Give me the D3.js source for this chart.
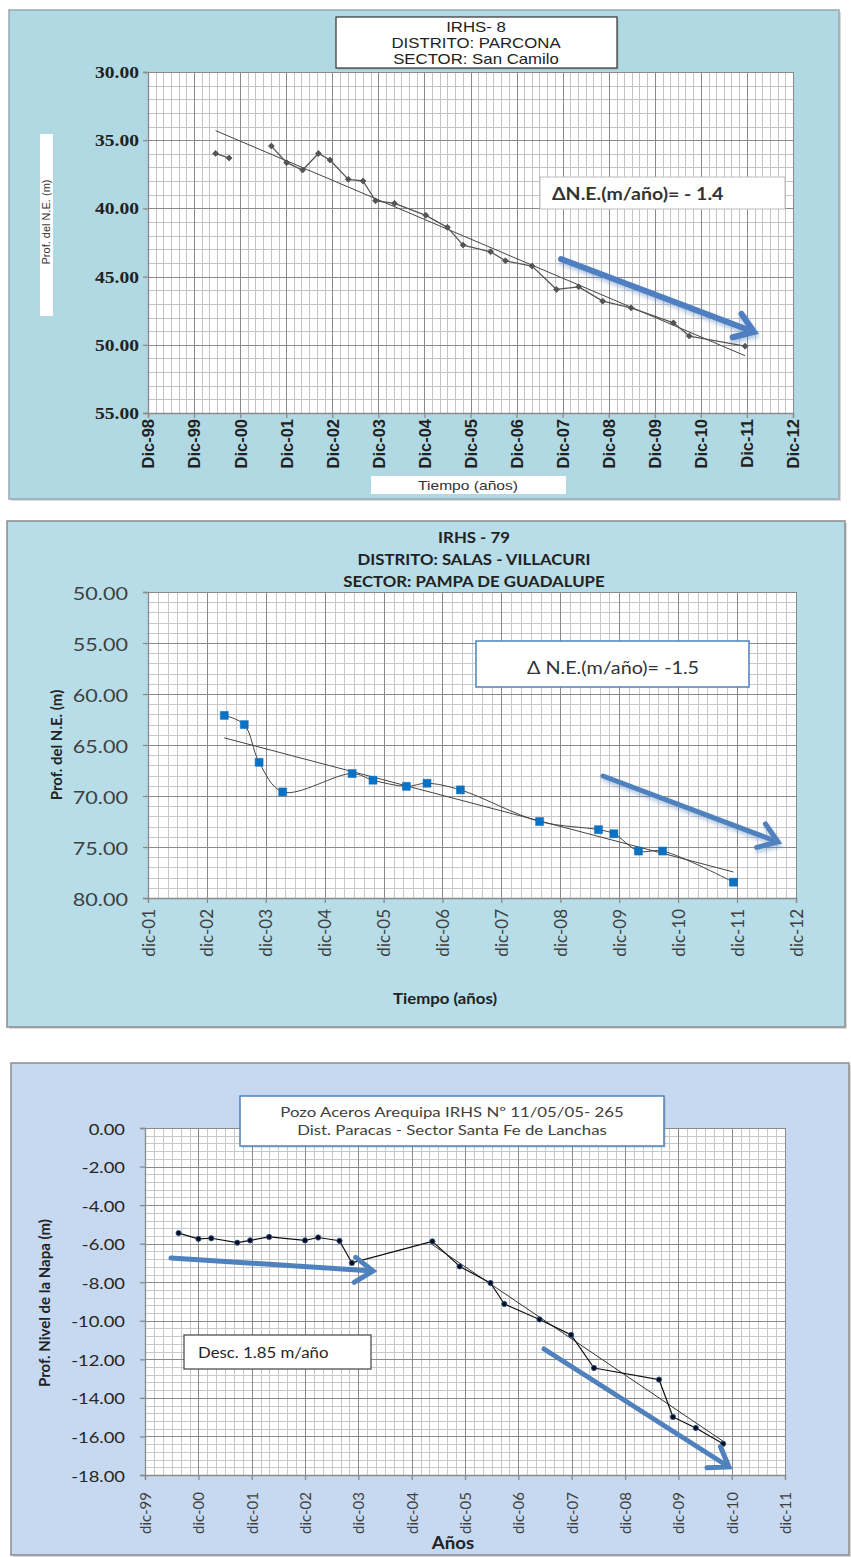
<!DOCTYPE html>
<html>
<head>
<meta charset="utf-8">
<script src="https://cdn.jsdelivr.net/npm/d3@7"></script>
<style>
  body { margin: 0; background: #fff; }
  svg { display: block; }
</style>
</head>
<body>
<svg id="chart" width="851" height="1557"></svg>
<script>
// ---------- IRHS-8 · Distrito Parcona · Sector San Camilo ----------
const irhs8Dates = ["2000-05-20","2000-09-04","2001-02-01","2001-08-05","2001-12-04","2002-04-10","2002-08-13",
  "2002-11-13","2003-04-07","2003-08-02","2003-11-09","2004-04-07","2004-12-12","2005-06-01","2005-10-03",
  "2006-05-09","2006-09-04","2007-04-03","2007-10-14","2008-04-07","2008-10-14","2009-05-27","2010-04-28",
  "2010-09-01","2011-11-17"];
const irhs8Depth = [35.97, 36.31, null, 35.43, 36.65, 37.19, 35.97, 36.45, 37.87, 37.99, 39.44, 39.63, 40.51,
  41.39, 42.69, 43.18, 43.84, 44.23, 45.94, 45.75, 46.80, 47.29, 48.39, 49.36, 50.10];
const irhs8TrendDates = ["2000-05-20", "2011-11-17"];
const irhs8TrendDepth = [34.3, 50.8];
const irhs8YTicks = [30, 35, 40, 45, 50, 55];
const irhs8XLabels = ["Dic-98","Dic-99","Dic-00","Dic-01","Dic-02","Dic-03","Dic-04","Dic-05","Dic-06",
  "Dic-07","Dic-08","Dic-09","Dic-10","Dic-11","Dic-12"];

// ---------- IRHS-79 · Distrito Salas - Villacuri · Pampa de Guadalupe ----------
const irhs79Dates = ["2003-03-19","2003-07-21","2003-10-21","2004-03-15","2005-05-20","2005-09-26","2006-04-21",
  "2006-08-27","2007-03-22","2008-07-25","2009-07-25","2009-10-29","2010-03-30","2010-08-27","2011-11-09"];
const irhs79Depth = [62.1, 63.0, 66.7, 69.6, 67.8, 68.45, 69.05, 68.75, 69.4, 72.5, 73.3, 73.7, 75.4, 75.4, 78.45];
const irhs79TrendDates = ["2003-03-19", "2011-11-09"];
const irhs79TrendDepth = [64.3, 77.45];
const irhs79YTicks = [50, 55, 60, 65, 70, 75, 80];
const irhs79XLabels = ["dic-01","dic-02","dic-03","dic-04","dic-05","dic-06","dic-07","dic-08","dic-09",
  "dic-10","dic-11","dic-12"];

// ---------- Pozo Aceros Arequipa · IRHS 11/05/05-265 · Santa Fe de Lanchas ----------
const acerosDates = ["2000-07-18","2000-12-01","2001-02-27","2001-08-24","2001-11-20","2002-03-30","2002-12-01",
  "2003-03-01","2003-07-25","2003-10-18","2005-04-21","2005-10-25","2006-05-24","2006-08-27","2007-04-25",
  "2007-11-27","2008-05-02","2009-07-21","2009-10-25","2010-03-30","2010-10-03"];
const acerosLevel = [-5.45, -5.75, -5.72, -5.95, -5.83, -5.65, -5.83, -5.68, -5.85, -7.0, -5.88, -7.18, -8.04,
  -9.13, -9.93, -10.73, -12.45, -13.05, -14.99, -15.56, -16.38];
const acerosTrendDates = ["2005-04-21", "2010-10-03"];
const acerosTrendLevel = [-6.05, -16.25];
const acerosYTicks = [0, -2, -4, -6, -8, -10, -12, -14, -16, -18];
const acerosXLabels = ["dic-99","dic-00","dic-01","dic-02","dic-03","dic-04","dic-05","dic-06","dic-07",
  "dic-08","dic-09","dic-10","dic-11"];

// ---------- helpers ----------
const parseDay = d3.timeParse("%Y-%m-%d");
const monthIndex = { ene:0, feb:1, mar:2, abr:3, may:4, jun:5, jul:6, ago:7, sep:8, set:8, oct:9, nov:10, dic:11 };
function labelToDate(lbl) {
  const [m, yy] = lbl.split("-");
  const n = +yy;
  return new Date(n < 50 ? 2000 + n : 1900 + n, monthIndex[m.toLowerCase()], 1);
}
function zip(dates, values) {
  return dates.map((d, i) => ({ date: parseDay(d), v: values[i] }));
}

const svg = d3.select("#chart");
const defs = svg.append("defs");
const shadow = defs.append("filter").attr("id", "arrowShadow")
  .attr("x", "-20%").attr("y", "-40%").attr("width", "140%").attr("height", "180%");
shadow.append("feGaussianBlur").attr("in", "SourceGraphic").attr("stdDeviation", 2.2).attr("result", "b");
shadow.append("feOffset").attr("in", "b").attr("dx", 1).attr("dy", 3).attr("result", "o");
shadow.append("feComponentTransfer").attr("in", "o").attr("result", "s")
  .append("feFuncA").attr("type", "linear").attr("slope", 0.45);
const merge = shadow.append("feMerge");
merge.append("feMergeNode").attr("in", "s");
merge.append("feMergeNode").attr("in", "SourceGraphic");

// horizontal text placed with an optional horizontal stretch
function addText(g, x, y, txt, o) {
  return g.append("text")
    .attr("transform", `translate(${x},${y}) scale(${o.sx || 1},1)`)
    .attr("text-anchor", o.anchor || "middle")
    .attr("dominant-baseline", "central")
    .style("font-family", o.font)
    .style("font-size", o.size + "px")
    .style("font-weight", o.weight || "normal")
    .attr("fill", o.color || "#222")
    .text(txt);
}

function drawArrow(g, a, color, width, soft) {
  const ang = Math.atan2(a.y2 - a.y1, a.x2 - a.x1);
  const L = a.head, spread = Math.PI / 5.2;
  const p1 = [a.x2 - L * Math.cos(ang - spread), a.y2 - L * Math.sin(ang - spread)];
  const p2 = [a.x2 - L * Math.cos(ang + spread), a.y2 - L * Math.sin(ang + spread)];
  const ga = g.append("g");
  if (soft) ga.attr("filter", "url(#arrowShadow)");
  ga.append("path")
    .attr("d", `M${a.x1},${a.y1}L${a.x2},${a.y2}M${p1[0]},${p1[1]}L${a.x2},${a.y2}L${p2[0]},${p2[1]}`)
    .attr("fill", "none").attr("stroke", color).attr("stroke-width", width)
    .attr("stroke-linecap", "round").attr("stroke-linejoin", "miter");
}

function drawPanel(p) {
  const g = svg.append("g");
  const [bx0, by0, bx1, by1] = p.box;
  g.append("rect").attr("x", bx0 + 2).attr("y", by0 + 2).attr("width", bx1 - bx0).attr("height", by1 - by0)
    .attr("fill", "#d9d9d9");
  g.append("rect").attr("x", bx0).attr("y", by0).attr("width", bx1 - bx0).attr("height", by1 - by0)
    .attr("fill", p.bg).attr("stroke", p.boxStroke).attr("stroke-width", 1.5);

  const xTicks = p.xLabels.map(labelToDate);
  const [px0, py0, px1, py1] = p.plot;
  const x = d3.scaleTime().domain([xTicks[0], xTicks[xTicks.length - 1]]).range([px0, px1]);
  const y = d3.scaleLinear().domain([p.yTicks[0], p.yTicks[p.yTicks.length - 1]]).range([py0, py1]);

  g.append("rect").attr("x", px0).attr("y", py0).attr("width", px1 - px0).attr("height", py1 - py0)
    .attr("fill", "#fff");

  // minor grid: every two months and every minor depth step
  const monthsMinor = d3.range(0, (xTicks.length - 1) * 12 + 1, 2).map(i => d3.timeMonth.offset(xTicks[0], i));
  const d0 = p.yTicks[0], d1 = p.yTicks[p.yTicks.length - 1];
  const nMinor = Math.round(Math.abs(d1 - d0) / p.yMinor);
  const yMinor = d3.range(nMinor + 1).map(i => d0 + Math.sign(d1 - d0) * i * p.yMinor);
  const grid = g.append("g").attr("shape-rendering", "crispEdges");
  grid.selectAll(".vm").data(monthsMinor).join("line")
    .attr("x1", d => Math.round(x(d)) + 0.5).attr("x2", d => Math.round(x(d)) + 0.5)
    .attr("y1", py0).attr("y2", py1).attr("stroke", p.minorColor).attr("stroke-width", 1);
  grid.selectAll(".hm").data(yMinor).join("line")
    .attr("y1", d => Math.round(y(d)) + 0.5).attr("y2", d => Math.round(y(d)) + 0.5)
    .attr("x1", px0).attr("x2", px1).attr("stroke", p.minorColor).attr("stroke-width", 1);
  grid.selectAll(".vM").data(xTicks).join("line")
    .attr("x1", d => Math.round(x(d)) + 0.5).attr("x2", d => Math.round(x(d)) + 0.5)
    .attr("y1", py0).attr("y2", py1).attr("stroke", p.majorColor).attr("stroke-width", 1.3);
  grid.selectAll(".hM").data(p.yTicks).join("line")
    .attr("y1", d => Math.round(y(d)) + 0.5).attr("y2", d => Math.round(y(d)) + 0.5)
    .attr("x1", px0).attr("x2", px1).attr("stroke", p.majorColor).attr("stroke-width", 1.3);

  // axes
  const yAxis = g.append("g").attr("transform", `translate(${px0},0)`)
    .call(d3.axisLeft(y).tickValues(p.yTicks).tickSize(5).tickPadding(p.yPad)
      .tickFormat(d => (d === 0 ? 0 : d).toFixed(2)));
  const xAxis = g.append("g").attr("transform", `translate(0,${py1})`)
    .call(d3.axisBottom(x).tickValues(xTicks).tickSize(5).tickFormat((d, i) => p.xLabels[i]));
  [yAxis, xAxis].forEach(ax => {
    ax.attr("font-size", null);
    ax.select(".domain").attr("stroke", p.axisColor).attr("stroke-width", 1.3);
    ax.selectAll(".tick line").attr("stroke", p.axisColor).attr("stroke-width", 1.3);
  });
  yAxis.selectAll(".tick text").each(function () {
    const t = d3.select(this);
    const tx = +t.attr("x");
    t.attr("x", 0).attr("dy", null).attr("dominant-baseline", "central")
      .attr("transform", `translate(${tx},0) scale(${p.yLabel.sx || 1},1)`);
  }).style("font-family", p.yLabel.font).style("font-size", p.yLabel.size + "px")
    .style("font-weight", p.yLabel.weight || "normal").attr("fill", p.yLabel.color);
  xAxis.selectAll(".tick text")
    .attr("transform", "rotate(-90)").attr("text-anchor", "end")
    .attr("x", -p.xLabel.pad).attr("y", 0).attr("dy", "0.36em")
    .style("font-family", p.xLabel.font).style("font-size", p.xLabel.size + "px")
    .style("font-weight", p.xLabel.weight || "normal").attr("fill", p.xLabel.color);

  // trend line
  g.append("path").datum(p.trend)
    .attr("d", d3.line().x(d => x(d.date)).y(d => y(d.v)))
    .attr("fill", "none").attr("stroke", p.trendColor).attr("stroke-width", p.trendWidth);

  // observed series
  g.append("path").datum(p.series)
    .attr("d", d3.line().defined(d => d.v != null).curve(p.curve).x(d => x(d.date)).y(d => y(d.v)))
    .attr("fill", "none").attr("stroke", p.lineColor).attr("stroke-width", p.lineWidth)
    .attr("stroke-linejoin", "round");
  const pts = p.series.filter(d => d.v != null);
  const m = p.marker;
  g.selectAll(".mk").data(pts).join("path")
    .attr("transform", d => `translate(${x(d.date)},${y(d.v)}) rotate(${m.rotate || 0})`)
    .attr("d", d3.symbol().type(m.type).size(m.size))
    .attr("fill", m.fill).attr("stroke", m.stroke).attr("stroke-width", m.strokeWidth);

  // arrows
  p.arrows.forEach(a => drawArrow(g, a, p.arrowColor, p.arrowWidth, p.arrowSoft));

  // title
  if (p.titleBox) {
    const b = p.titleBox;
    g.append("rect").attr("x", b[0] + 1.5).attr("y", b[1] + 1.5).attr("width", b[2] - b[0]).attr("height", b[3] - b[1])
      .attr("fill", "#999").attr("opacity", 0.5);
    g.append("rect").attr("x", b[0]).attr("y", b[1]).attr("width", b[2] - b[0]).attr("height", b[3] - b[1])
      .attr("fill", "#fff").attr("stroke", p.titleBoxStroke).attr("stroke-width", p.titleBoxWidth);
  }
  p.title.forEach(t => addText(g, t.x, t.y, t.text, p.titleFont));

  // slope annotation
  const n = p.note;
  g.append("rect").attr("x", n.box[0]).attr("y", n.box[1]).attr("width", n.box[2] - n.box[0])
    .attr("height", n.box[3] - n.box[1]).attr("fill", "#fff").attr("stroke", n.stroke).attr("stroke-width", n.strokeWidth);
  addText(g, n.tx, n.ty, n.text, n.font);

  // axis titles
  [p.yTitle, p.xTitle].forEach(t => {
    if (t.box) {
      g.append("rect").attr("x", t.box[0]).attr("y", t.box[1]).attr("width", t.box[2] - t.box[0])
        .attr("height", t.box[3] - t.box[1]).attr("fill", "#fff");
    }
    const el = g.append("text")
      .attr("text-anchor", "middle").attr("dominant-baseline", "central")
      .style("font-family", t.font.font).style("font-size", t.font.size + "px")
      .style("font-weight", t.font.weight || "normal").attr("fill", t.font.color)
      .text(t.text);
    if (t.rotate) el.attr("transform", `translate(${t.x},${t.y}) rotate(-90) scale(1,${t.font.sx || 1})`);
    else el.attr("transform", `translate(${t.x},${t.y}) scale(${t.font.sx || 1},1)`);
  });
}

drawPanel({
  box: [9, 10, 839, 499], bg: "#b1d9e3", boxStroke: "#97a9b0",
  plot: [148, 72, 793, 413],
  xLabels: irhs8XLabels, yTicks: irhs8YTicks, yMinor: 1,
  minorColor: "#c4c4c4", majorColor: "#8a8a8a", axisColor: "#8a8a8a",
  yPad: 4,
  yLabel: { font: "'Liberation Serif', serif", size: 17, weight: "bold", color: "#222", sx: 1.15 },
  xLabel: { font: "'Liberation Sans', Arial, sans-serif", size: 16.5, weight: "bold", color: "#222", pad: 6 },
  series: zip(irhs8Dates, irhs8Depth),
  trend: zip(irhs8TrendDates, irhs8TrendDepth),
  curve: d3.curveLinear, lineColor: "#555", lineWidth: 1.3,
  trendColor: "#444", trendWidth: 1,
  marker: { type: d3.symbolSquare, size: 18, rotate: 45, fill: "#555", stroke: "#444", strokeWidth: 0.6 },
  arrows: [{ x1: 561, y1: 259, x2: 754, y2: 332, head: 22 }],
  arrowColor: "#4f7fc0", arrowWidth: 6, arrowSoft: true,
  titleBox: [336, 17, 617, 68], titleBoxStroke: "#333", titleBoxWidth: 1.2,
  titleFont: { font: "'Liberation Sans Narrow', 'Liberation Sans', Arial, sans-serif", size: 14, color: "#222", sx: 1.2 },
  title: [
    { x: 476, y: 27, text: "IRHS-  8" },
    { x: 476, y: 43, text: "DISTRITO:   PARCONA" },
    { x: 476, y: 59, text: "SECTOR:  San Camilo" }
  ],
  note: { box: [540, 177, 785, 209], stroke: "#bbb", strokeWidth: 1, tx: 552, ty: 194,
    text: "ΔN.E.(m/año)= - 1.4",
    font: { font: "Lato, sans-serif", size: 17, weight: "bold", color: "#333", anchor: "start", sx: 1.15 } },
  yTitle: { text: "Prof. del N.E. (m)", x: 46, y: 222, rotate: true, box: [40, 134, 53, 316],
    font: { font: "'Liberation Sans', Arial, sans-serif", size: 11, color: "#333" } },
  xTitle: { text: "Tiempo (años)", x: 468, y: 485, box: [371, 476, 566, 494],
    font: { font: "'Liberation Sans Narrow', 'Liberation Sans', Arial, sans-serif", size: 13, color: "#333", sx: 1.2 } }
});

drawPanel({
  box: [7, 521, 845, 1027], bg: "#b7dde8", boxStroke: "#8c8c8c",
  plot: [148, 592, 796, 898],
  xLabels: irhs79XLabels, yTicks: irhs79YTicks, yMinor: 1,
  minorColor: "#c8c8c8", majorColor: "#8a8a8a", axisColor: "#8a8a8a",
  yPad: 15,
  yLabel: { font: "Lato, sans-serif", size: 18, color: "#404040", sx: 1.2 },
  xLabel: { font: "Lato, sans-serif", size: 17, color: "#404040", pad: 11 },
  series: zip(irhs79Dates, irhs79Depth),
  trend: zip(irhs79TrendDates, irhs79TrendDepth),
  curve: d3.curveCatmullRom.alpha(0.5), lineColor: "#444", lineWidth: 1,
  trendColor: "#444", trendWidth: 1,
  marker: { type: d3.symbolSquare, size: 64, fill: "#0a72c4", stroke: "#0a6cbc", strokeWidth: 0.5 },
  arrows: [{ x1: 603, y1: 776, x2: 778, y2: 842, head: 22 }],
  arrowColor: "#4f81bd", arrowWidth: 5, arrowSoft: true,
  titleBox: null,
  titleFont: { font: "Lato, sans-serif", size: 15, weight: "bold", color: "#222", sx: 1.12 },
  title: [
    { x: 474, y: 537, text: "IRHS - 79" },
    { x: 474, y: 559, text: "DISTRITO: SALAS - VILLACURI" },
    { x: 474, y: 581, text: "SECTOR: PAMPA DE GUADALUPE" }
  ],
  note: { box: [476, 641, 749, 687], stroke: "#4f81bd", strokeWidth: 1.5, tx: 613, ty: 667,
    text: "Δ N.E.(m/año)= -1.5",
    font: { font: "Lato, sans-serif", size: 18, color: "#333", sx: 1.1 } },
  yTitle: { text: "Prof. del N.E. (m)", x: 56, y: 745, rotate: true,
    font: { font: "Lato, sans-serif", size: 15, weight: "bold", color: "#222" } },
  xTitle: { text: "Tiempo (años)", x: 445, y: 998,
    font: { font: "Lato, sans-serif", size: 15, weight: "bold", color: "#222", sx: 1.12 } }
});

drawPanel({
  box: [11, 1063, 849, 1555], bg: "#c6d9f0", boxStroke: "#8c8c8c",
  plot: [145, 1128, 785, 1475],
  xLabels: acerosXLabels, yTicks: acerosYTicks, yMinor: 0.4,
  minorColor: "#c8c8c8", majorColor: "#8a8a8a", axisColor: "#8a8a8a",
  yPad: 15,
  yLabel: { font: "Lato, sans-serif", size: 16, color: "#262626", sx: 1.15 },
  xLabel: { font: "Lato, sans-serif", size: 15, color: "#404040", pad: 17 },
  series: zip(acerosDates, acerosLevel),
  trend: zip(acerosTrendDates, acerosTrendLevel),
  curve: d3.curveLinear, lineColor: "#111", lineWidth: 1.2,
  trendColor: "#333", trendWidth: 1,
  marker: { type: d3.symbolCircle, size: 22, fill: "#0b0b1a", stroke: "#2d5b9a", strokeWidth: 0.8 },
  arrows: [
    { x1: 171, y1: 1258, x2: 373, y2: 1271, head: 22 },
    { x1: 544, y1: 1349, x2: 729, y2: 1467, head: 22 }
  ],
  arrowColor: "#4f81bd", arrowWidth: 5, arrowSoft: false,
  titleBox: [240, 1096, 664, 1146], titleBoxStroke: "#4f81bd", titleBoxWidth: 1.5,
  titleFont: { font: "Lato, sans-serif", size: 14, color: "#404040", sx: 1.2 },
  title: [
    { x: 452, y: 1112, text: "Pozo Aceros Arequipa  IRHS Nº 11/05/05- 265" },
    { x: 452, y: 1130, text: "Dist. Paracas - Sector Santa Fe de Lanchas" }
  ],
  note: { box: [184, 1335, 371, 1369], stroke: "#404040", strokeWidth: 1.2, tx: 198, ty: 1352,
    text: "Desc. 1.85 m/año",
    font: { font: "Lato, sans-serif", size: 16, color: "#262626", anchor: "start", sx: 1.05 } },
  yTitle: { text: "Prof. Nivel de la Napa (m)", x: 44, y: 1303, rotate: true,
    font: { font: "Lato, sans-serif", size: 15, weight: "bold", color: "#222" } },
  xTitle: { text: "Años", x: 453, y: 1542,
    font: { font: "Lato, sans-serif", size: 17, weight: "bold", color: "#222", sx: 1.1 } }
});
</script>
</body>
</html>
